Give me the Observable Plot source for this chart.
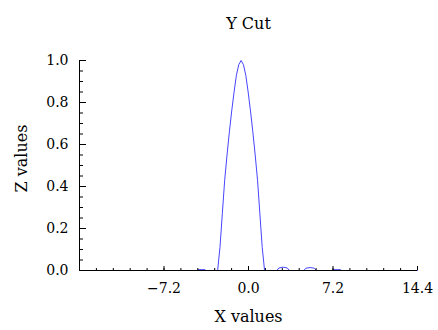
<!DOCTYPE html>
<html>
<head>
<meta charset="utf-8">
<script src="https://cdn.jsdelivr.net/npm/d3@7"></script>
<script src="https://cdn.jsdelivr.net/npm/@observablehq/plot@0.6"></script>
<style>
  html, body { margin: 0; padding: 0; background: white; }
</style>
</head>
<body>
<div id="chart"></div>
<script>
const title = "Y Cut";
const xTitle = "X values";
const yTitle = "Z values";

// curve samples
const xValues = [-14.4, -4.35, -4.3, -3.7, -3.65, -2.63, -2.43, -2.23, -2.03, -1.83, -1.63, -1.43, -1.23, -1.03, -0.83, -0.63, -0.43, -0.23, -0.03, 0.17, 0.37, 0.57, 0.77, 0.97, 1.17, 1.37, 2.4, 2.6, 2.95, 3.3, 3.5, 4.7, 4.9, 5.25, 5.6, 5.8, 7.15, 7.2, 7.85, 7.9, 14.4];
const zValues = [0, 0, 0.004, 0.004, 0, 0, 0.11, 0.27, 0.43, 0.55, 0.66, 0.76, 0.85, 0.93, 0.98, 1.0, 0.98, 0.93, 0.85, 0.76, 0.66, 0.55, 0.43, 0.27, 0.11, 0, 0, 0.012, 0.016, 0.012, 0, 0, 0.011, 0.014, 0.011, 0, 0, 0.004, 0.004, 0, 0];

const xDomain = [-14.4, 14.4];
const yDomain = [0, 1];
const xMajorTicks = [-14.4, -7.2, 0, 7.2, 14.4];
const xTickLabels = [-7.2, 0, 7.2, 14.4];
const yMajorTicks = [0, 0.2, 0.4, 0.6, 0.8, 1.0];
const yTickLabels = [0, 0.2, 0.4, 0.6, 0.8, 1.0];
const xMinorStep = 1.44;
const yMinorStep = 0.05;

const data = xValues.map((x, i) => ({x, z: zValues[i]}));
const xMinorTicks = d3.range(0, 21).map(i => xDomain[0] + i * xMinorStep);
const yMinorTicks = d3.range(0, 21).map(i => i * yMinorStep);

const W = 438, H = 330;
const mL = 79, mR = 21, mT = 60, mB = 60;
const fw = W - mL - mR, fh = H - mT - mB;

const chart = Plot.plot({
  width: W,
  height: H,
  marginLeft: mL,
  marginRight: mR,
  marginTop: mT,
  marginBottom: mB,
  x: {domain: xDomain},
  y: {domain: yDomain},
  style: {fontFamily: "'DejaVu Serif', serif", fontSize: "14px", background: "white", color: "black"},
  marks: [
    Plot.line(data, {x: "x", y: "z", stroke: "#4646ff", strokeWidth: 1}),
    Plot.tickY(yMinorTicks, {insetRight: fw - 4, stroke: "black"}),
    Plot.tickY(yMajorTicks, {insetRight: fw - 7, stroke: "black"}),
    Plot.tickX(xMinorTicks, {insetTop: fh - 2, stroke: "black"}),
    Plot.tickX(xMajorTicks, {insetTop: fh - 4, stroke: "black"}),
    Plot.ruleY([yDomain[0]], {stroke: "black"}),
    Plot.ruleX([xDomain[0]], {stroke: "black"}),
    Plot.axisX({ticks: xTickLabels, tickSize: 0, tickPadding: 13, tickFormat: d3.format(".1f"), label: null, fontSize: 14}),
    Plot.axisY({ticks: yTickLabels, tickSize: 0, tickPadding: 11, tickFormat: d3.format(".1f"), label: null, fontSize: 14}),
    Plot.text([title], {frameAnchor: "top", lineAnchor: "bottom", dy: -32, fontSize: 16}),
    Plot.text([xTitle], {frameAnchor: "bottom", lineAnchor: "middle", dy: 46, fontSize: 16}),
    Plot.text([yTitle], {frameAnchor: "left", textAnchor: "middle", lineAnchor: "middle", rotate: -90, dx: -58, dy: -7, fontSize: 16})
  ]
});
document.getElementById("chart").appendChild(chart);
</script>
</body>
</html>
